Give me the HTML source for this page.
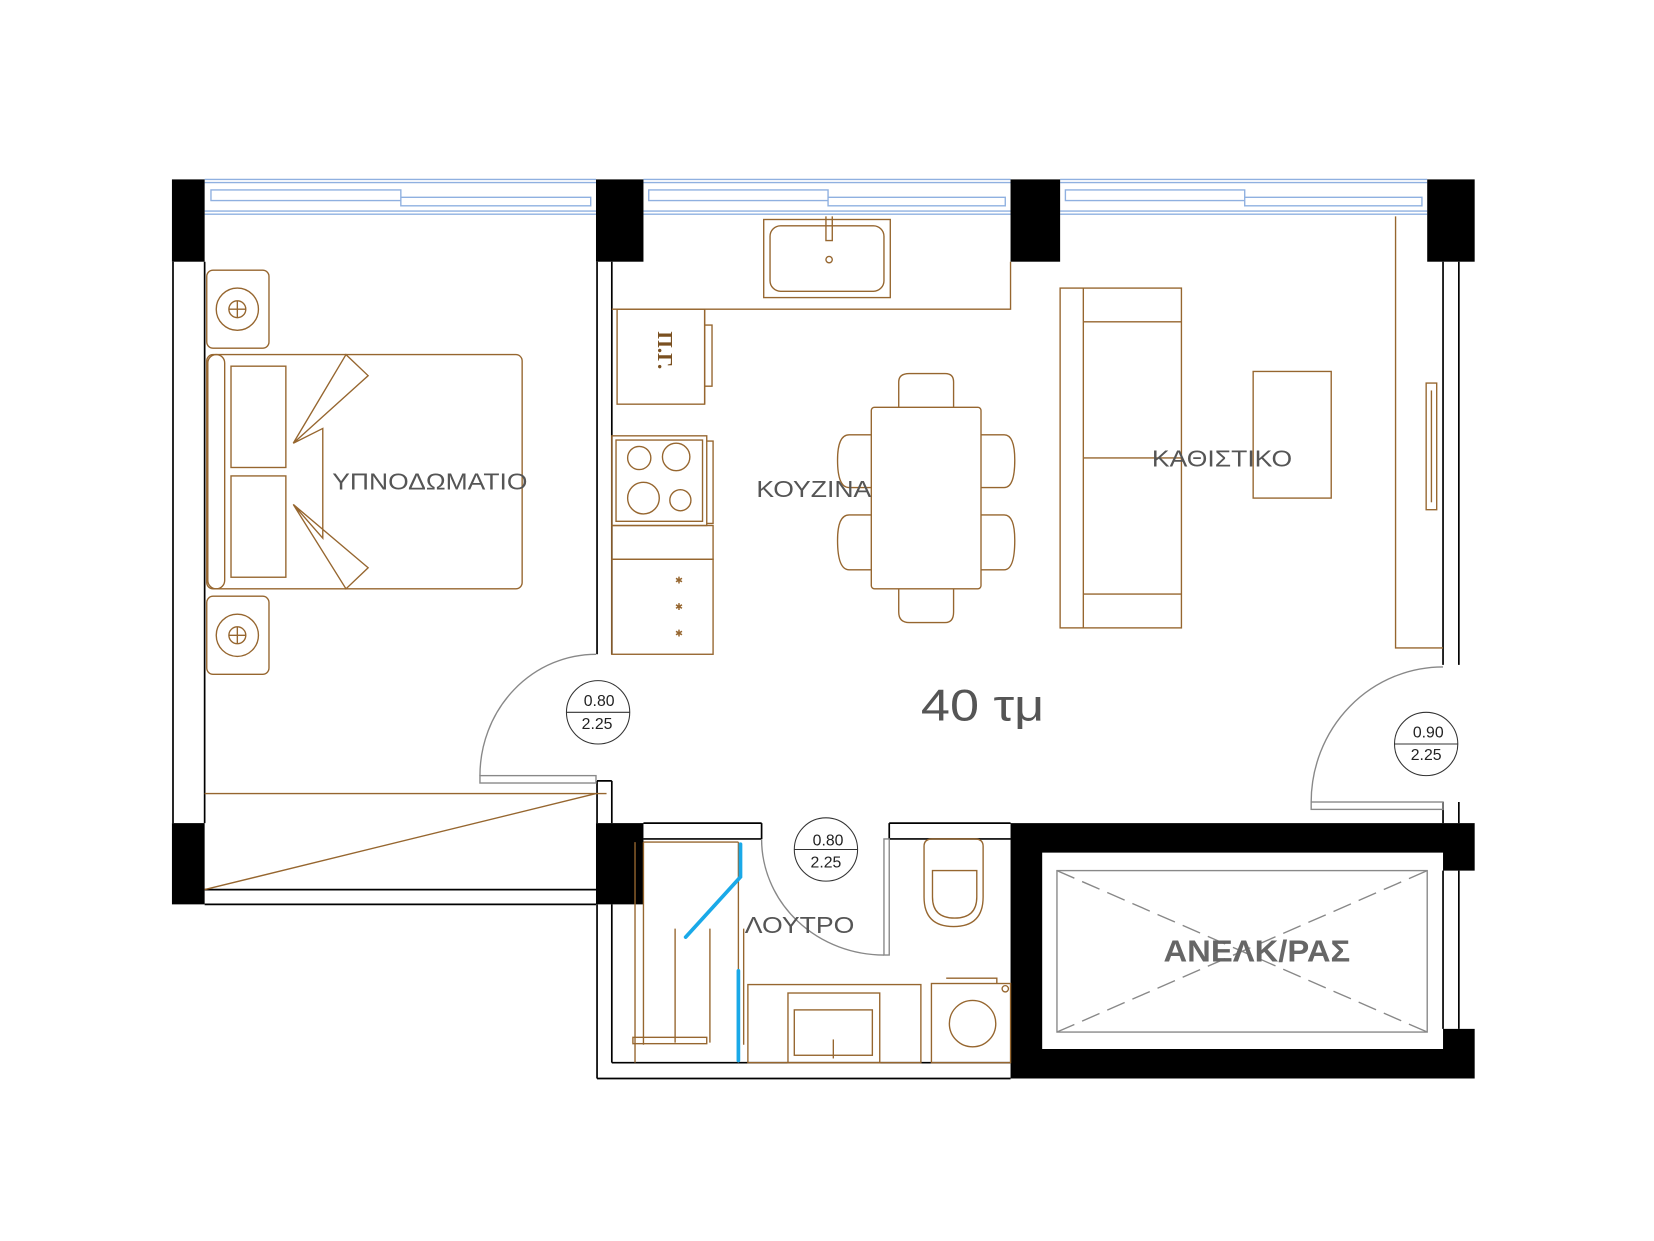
<!DOCTYPE html>
<html><head><meta charset="utf-8"><style>html,body{margin:0;padding:0;background:#fff}svg{display:block}</style></head>
<body>
<svg width="1654" height="1241" viewBox="0 0 1568 1176" preserveAspectRatio="none" xmlns="http://www.w3.org/2000/svg" font-family="Liberation Sans, DejaVu Sans, sans-serif">
<rect width="1568" height="1176" fill="#fff"/>
<g stroke="#8fb0e0" stroke-width="1.3" fill="none">
<path d="M194 170H565M194 173H565M194 200H565M194 203H565M610 170H958M610 173H958M610 200H958M610 203H958M1005 170H1353M1005 173H1353M1005 200H1353M1005 203H1353"/>
<path d="M200 180H380V190H200ZM380 187H560V195H380ZM615 180H785V190H615ZM785 187H953V195H785ZM1010 180H1180V190H1010ZM1180 187H1348V195H1180Z"/>
</g>
<g stroke="#000" stroke-width="1.6" fill="none">
<path d="M164 248V780M194 248V780"/>
<path d="M194 843H565M194 857H565"/>
<path d="M566 248V620M580 248V620M566 740V780M580 740V780M566 740H580"/>
<path d="M1368 248V630M1383 248V630M1368 760V780M1383 760V780"/>
<path d="M610 780H722M610 795H722M722 780V795M843 780H958M843 795H958M843 780V795"/>
<path d="M566 857V1022M580 857V1007M566 1022H958M580 1007H958"/>
<path d="M1383 825V975M1368 825V975"/>
</g>
<g fill="#000">
<rect x="163" y="170" width="31" height="78"/><rect x="565" y="170" width="45" height="78"/>
<rect x="958" y="170" width="47" height="78"/><rect x="1353" y="170" width="45" height="78"/>
<rect x="163" y="780" width="31" height="77"/><rect x="565" y="780" width="45" height="77"/>
<path d="M958 780H1398V825H1368V975H1398V1022H958ZM988 808V994H1368V808Z" fill-rule="evenodd"/>
</g>
<g stroke="#888" stroke-width="1.3" fill="none">
<rect x="1002" y="825" width="351" height="153"/>
<path d="M1002 825L1353 978M1002 978L1353 825" stroke-dasharray="18 8"/>
</g>
<g stroke="#888" stroke-width="1.3" fill="none">
<path d="M455 735A110 115 0 0 1 565 620"/><rect x="455" y="735" width="110" height="7"/>
<path d="M1243 760A125 128 0 0 1 1368 632"/><rect x="1243" y="760" width="125" height="7"/>
<path d="M722 795A116 110 0 0 0 838 905"/><rect x="838" y="795" width="5" height="110"/>
</g>
<g stroke="#333" stroke-width="1" fill="none">
<circle cx="567" cy="675" r="30"/><path d="M537 675H597"/>
<circle cx="1352" cy="705" r="30"/><path d="M1322 705H1382"/>
<circle cx="783" cy="805" r="30"/><path d="M753 805H813"/>
</g>
<g fill="#222" font-size="15" text-anchor="middle">
<text x="568" y="669">0.80</text><text x="566" y="691">2.25</text>
<text x="1354" y="699">0.90</text><text x="1352" y="720">2.25</text>
<text x="785" y="801">0.80</text><text x="783" y="822">2.25</text>
</g>
<g stroke="#96662f" stroke-width="1.3" fill="none">
<rect x="196" y="256" width="59" height="74" rx="6"/><circle cx="225" cy="293" r="20"/><circle cx="225" cy="293" r="8"/><path d="M217 293H233M225 285V301"/>
<rect x="196" y="565" width="59" height="74" rx="6"/><circle cx="225" cy="602" r="20"/><circle cx="225" cy="602" r="8"/><path d="M217 602H233M225 594V610"/>
<rect x="196" y="336" width="299" height="222" rx="6"/><rect x="197" y="336" width="16" height="222" rx="8"/>
<rect x="219" y="347" width="52" height="96"/><rect x="219" y="451" width="52" height="96"/>
<path d="M328 336L278 420L349 356L328 336ZM278 420L306 406V510L278 478L328 558L349 538L278 478"/>
<path d="M194 752H575M194 843L565 752"/>
<path d="M580 293H958V248M668 293V383"/>
<rect x="724" y="208" width="120" height="74"/><rect x="730" y="214" width="108" height="62" rx="10"/><circle cx="786" cy="246" r="3"/><path d="M783 205V228H789V205"/>
<rect x="585" y="293" width="83" height="90"/><path d="M668 308H675V366H668"/>
<rect x="580" y="413" width="90" height="85"/><rect x="584" y="417" width="82" height="77"/>
<circle cx="606" cy="434" r="11"/><circle cx="641" cy="433" r="13"/><circle cx="610" cy="472" r="15"/><circle cx="645" cy="474" r="10"/>
<path d="M670 418H676V496H670"/>
<rect x="580" y="498" width="96" height="32"/><rect x="580" y="530" width="96" height="90"/>
<rect x="826" y="386" width="104" height="172" rx="3"/>
<path d="M852 386V362Q852 354 862 354H896Q904 354 904 362V386M852 558V580Q852 590 862 590H896Q904 590 904 580V558"/>
<path d="M826 412H805Q794 412 794 436Q794 462 805 462H826M826 488H805Q794 488 794 512Q794 540 805 540H826M930 412H952Q962 412 962 436Q962 462 952 462H930M930 488H952Q962 488 962 512Q962 540 952 540H930"/>
<rect x="1005" y="273" width="115" height="322"/><path d="M1027 273V595M1027 305H1120M1027 563H1120M1027 434H1120"/>
<rect x="1188" y="352" width="74" height="120"/>
<path d="M1323 205V614H1368"/><rect x="1352" y="363" width="10" height="120"/><path d="M1357 370V476"/>
<path d="M610 798H700M602 1007V798M610 798V990M700 798V1007"/>
<path d="M640 880V988M673 880V988M705 880V990"/>
<rect x="600" y="983" width="70" height="6"/>
<rect x="709" y="933" width="164" height="74"/><rect x="747" y="941" width="87" height="66"/><rect x="753" y="957" width="74" height="43"/><path d="M790 985V1003"/>
<rect x="883" y="932" width="75" height="75"/><path d="M897 927H945V932"/><circle cx="922" cy="970" r="22"/><circle cx="953" cy="937" r="3"/>
<path d="M876 802Q876 795 884 795H924Q932 795 932 802V850Q932 878 904 878Q876 878 876 850Z"/>
<path d="M884 825H926V850Q926 870 905 870Q884 870 884 850Z"/>
</g>
<g fill="#96662f" font-size="9">
<text x="640" y="553">✱</text><text x="640" y="578">✱</text><text x="640" y="603">✱</text>
</g>
<text x="620" y="340" transform="rotate(90 626 338)" fill="#7a5020" font-family="Liberation Serif, serif" font-weight="bold" font-size="20" text-anchor="middle">Π.Γ.</text>
<g stroke="#1aa9e8" stroke-width="3.5" fill="none" stroke-linecap="round">
<path d="M702 800V831L650 888M700 920V1005"/>
</g>
<g fill="#555" font-size="22">
<text x="315" y="464" textLength="185" lengthAdjust="spacingAndGlyphs">ΥΠΝΟΔΩΜΑΤΙΟ</text>
<text x="717" y="471" textLength="109" lengthAdjust="spacingAndGlyphs">ΚΟΥΖΙΝΑ</text>
<text x="1092" y="442" textLength="133" lengthAdjust="spacingAndGlyphs">ΚΑΘΙΣΤΙΚΟ</text>
<text x="706" y="884" textLength="104" lengthAdjust="spacingAndGlyphs">ΛΟΥΤΡΟ</text>
</g>
<text x="873" y="683" fill="#555" font-size="42" textLength="117" lengthAdjust="spacingAndGlyphs">40 τμ</text>
<text x="1103" y="911" fill="#666" font-size="29" font-weight="bold" textLength="177" lengthAdjust="spacingAndGlyphs">ΑΝΕΛΚ/ΡΑΣ</text>
</svg>
</body></html>
